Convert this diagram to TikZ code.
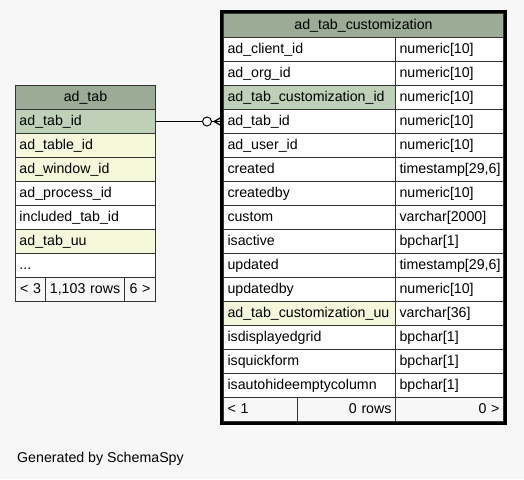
\documentclass[tikz,border=0pt]{standalone}
\usepackage{fontspec}
\setmainfont{Liberation Sans}
\usetikzlibrary{positioning}
\definecolor{pagebg}{HTML}{F7F7F7}
\definecolor{hdrcol}{HTML}{9BAB96}
\definecolor{pkcol}{HTML}{BED1B8}
\definecolor{fkcol}{HTML}{F4F7DA}

\begin{document}
\begin{tikzpicture}[x=1pt, y=-1pt, font=\fontsize{14.2}{16}\selectfont,
  cell/.style={draw=black!80, line width=1, anchor=north west, minimum height=24,
    inner xsep=4, inner ysep=0, text width=#1, align=left, text height=10.5, text depth=3},
  hdr/.style={cell=#1, fill=hdrcol, align=center},
  foot/.style={cell=#1, fill=pagebg}]
\fill[pagebg] (0,0) rectangle (524,479);
\useasboundingbox (0,0) rectangle (524,479);

% ad_tab
\node[hdr=132] (tabhdr) at (15,85) {ad\_tab};
\foreach \n/\c [count=\i] in {ad\_tab\_id/pkcol, ad\_table\_id/fkcol, ad\_window\_id/fkcol,
    ad\_process\_id/white, included\_tab\_id/white, ad\_tab\_uu/fkcol, {.{}.{}.}/white}
  \node[cell=132, fill=\c] (tab\i) at (15,85+24*\i) {\n};
\node[foot=22, align=center] (tabft1) at (15,277) {< 3};
\node[foot=71, align=center] (tabft2) at (45,277) {1,103 rows};
\node[foot=23, align=center] (tabft3) at (124,277) {6 >};

% ad_tab_customization
\node[hdr=272] (custhdr) at (223,13) {ad\_tab\_customization};
\foreach \n/\t/\c [count=\i] in {ad\_client\_id/numeric[10]/white, ad\_org\_id/numeric[10]/white,
    ad\_tab\_customization\_id/numeric[10]/pkcol, ad\_tab\_id/numeric[10]/white,
    ad\_user\_id/numeric[10]/white, created/{timestamp[29,6]}/white, createdby/numeric[10]/white,
    custom/varchar[2000]/white, isactive/bpchar[1]/white, updated/{timestamp[29,6]}/white,
    updatedby/numeric[10]/white, ad\_tab\_customization\_uu/varchar[36]/fkcol,
    isdisplayedgrid/bpchar[1]/white, isquickform/bpchar[1]/white,
    isautohideemptycolumn/bpchar[1]/white}
{
  \node[cell=164, fill=\c] (cust\i) at (223,13+24*\i) {\n};
  \node[cell=100, fill=white] (type\i) at (395,13+24*\i) {\t};
}
\node[foot=66] (custft1) at (223,397) {< 1};
\node[foot=90, align=right] (custft2) at (297,397) {0 rows};
\node[foot=100, align=right] (custft3) at (395,397) {0 >};
\draw[line width=3] ([shift={(-1.5,-1.5)}]custhdr.north west) rectangle ([shift={(1.5,1.5)}]custft3.south east);

% relationship
\draw[line width=1] (tab1.east) -- (cust4.west);
\draw[line width=1.3] ([xshift=-9]cust4.west) -- ([yshift=5]cust4.west)
  ([xshift=-9]cust4.west) -- ([yshift=-5]cust4.west);
\draw[line width=1, fill=white] ([xshift=-16]cust4.west) circle (4.5);

\node[anchor=west, inner sep=0] (credit) at (17,459) {Generated by SchemaSpy};
\end{tikzpicture}
\end{document}
